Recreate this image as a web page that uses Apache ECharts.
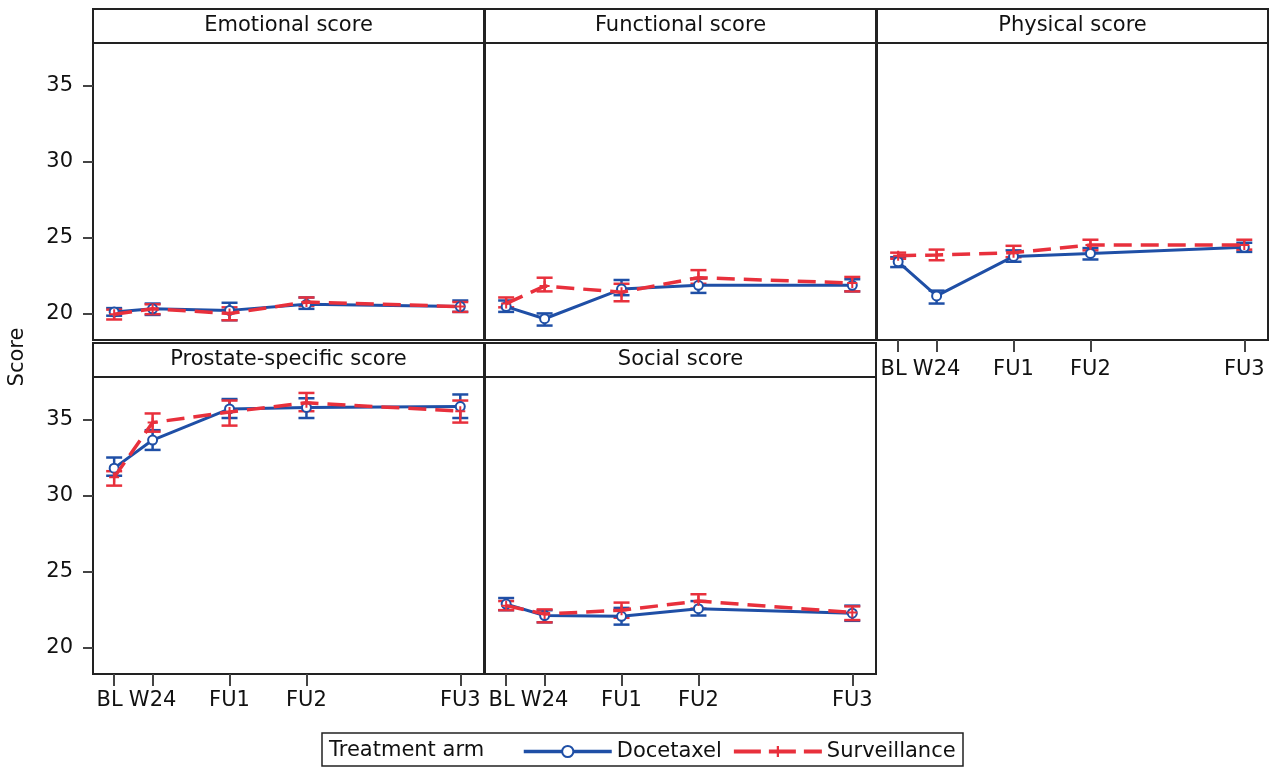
<!DOCTYPE html>
<html>
<head>
<meta charset="utf-8">
<script src="https://cdn.jsdelivr.net/npm/echarts@6/dist/echarts.min.js"></script>
<style>
html,body{margin:0;padding:0;background:#fff;}
#chart{width:1275px;height:768px;}
</style>
</head>
<body>
<div id="chart"></div>
<script>
// ---------- data ----------
const visitLabels = ['BL', 'W24', 'FU1', 'FU2', 'FU3'];
const visitMonths = [0, 6, 18, 30, 54];
const yTickValues = [20, 25, 30, 35];
const panelTitles = ['Emotional score', 'Functional score', 'Physical score', 'Prostate-specific score', 'Social score'];
const armNames = ['Docetaxel', 'Surveillance'];

const emotionalDocMean = [20.1, 20.3, 20.2, 20.6, 20.45];
const emotionalDocLow  = [19.85, 19.9, 19.55, 20.3, 20.1];
const emotionalDocHigh = [20.35, 20.65, 20.7, 21.05, 20.85];
const emotionalSurMean = [19.95, 20.3, 20.0, 20.75, 20.45];
const emotionalSurLow  = [19.6, 19.95, 19.55, 20.5, 20.1];
const emotionalSurHigh = [20.25, 20.6, 20.4, 21.05, 20.75];

const functionalDocMean = [20.45, 19.65, 21.6, 21.85, 21.85];
const functionalDocLow  = [20.1, 19.2, 21.2, 21.35, 21.45];
const functionalDocHigh = [20.85, 20.0, 22.2, 22.3, 22.25];
const functionalSurMean = [20.65, 21.8, 21.4, 22.35, 22.0];
const functionalSurLow  = [20.4, 21.45, 20.8, 21.95, 21.45];
const functionalSurHigh = [21.05, 22.35, 21.95, 22.85, 22.4];

const physicalDocMean = [23.4, 21.15, 23.75, 23.95, 24.35];
const physicalDocLow  = [23.05, 20.65, 23.4, 23.55, 24.05];
const physicalDocHigh = [23.7, 21.5, 24.15, 24.3, 24.65];
const physicalSurMean = [23.8, 23.85, 24.0, 24.5, 24.5];
const physicalSurLow  = [23.6, 23.5, 23.7, 24.15, 24.2];
const physicalSurHigh = [24.0, 24.2, 24.45, 24.85, 24.85];

const prostateDocMean = [31.8, 33.65, 35.7, 35.8, 35.85];
const prostateDocLow  = [31.3, 33.0, 35.1, 35.1, 35.1];
const prostateDocHigh = [32.5, 34.3, 36.35, 36.4, 36.65];
const prostateSurMean = [31.2, 34.8, 35.5, 36.1, 35.55];
const prostateSurLow  = [30.65, 34.2, 34.6, 35.55, 34.8];
const prostateSurHigh = [31.6, 35.4, 36.25, 36.75, 36.25];

const socialDocMean = [22.85, 22.1, 22.05, 22.55, 22.25];
const socialDocLow  = [22.45, 21.65, 21.5, 22.1, 21.75];
const socialDocHigh = [23.25, 22.45, 22.6, 23.05, 22.75];
const socialSurMean = [22.75, 22.2, 22.45, 23.05, 22.3];
const socialSurLow  = [22.45, 21.65, 21.95, 22.55, 21.8];
const socialSurHigh = [23.05, 22.5, 22.95, 23.5, 22.7];

// ---------- layout & style ----------
const FONT = 'DejaVu Sans';
const BLUE = '#1f4fa6';
const RED = '#e8303c';
const FRAME = '#222';
const colLeft = [93, 485, 877];
const panelW = 391;
const rowTop = [43, 377];
const panelH = 297;
const headerH = 34;
const xLabelMargin = [19, 16];

const panels = [
  {title: panelTitles[0], col: 0, row: 0, yLab: true,  xLab: false, doc: [emotionalDocMean, emotionalDocLow, emotionalDocHigh], sur: [emotionalSurMean, emotionalSurLow, emotionalSurHigh]},
  {title: panelTitles[1], col: 1, row: 0, yLab: false, xLab: false, doc: [functionalDocMean, functionalDocLow, functionalDocHigh], sur: [functionalSurMean, functionalSurLow, functionalSurHigh]},
  {title: panelTitles[2], col: 2, row: 0, yLab: false, xLab: true,  doc: [physicalDocMean, physicalDocLow, physicalDocHigh], sur: [physicalSurMean, physicalSurLow, physicalSurHigh]},
  {title: panelTitles[3], col: 0, row: 1, yLab: true,  xLab: true,  doc: [prostateDocMean, prostateDocLow, prostateDocHigh], sur: [prostateSurMean, prostateSurLow, prostateSurHigh]},
  {title: panelTitles[4], col: 1, row: 1, yLab: false, xLab: true,  doc: [socialDocMean, socialDocLow, socialDocHigh], sur: [socialSurMean, socialSurLow, socialSurHigh]}
];

const grids = [], xAxes = [], yAxes = [], series = [], graphics = [];

function ciRenderer(color) {
  return function (params, api) {
    const x = api.value(0), lo = api.value(1), hi = api.value(2);
    const p1 = api.coord([x, lo]), p2 = api.coord([x, hi]);
    const hw = 8;
    const st = {stroke: color, lineWidth: 2.5};
    return {type: 'group', children: [
      {type: 'line', shape: {x1: p1[0], y1: p1[1], x2: p2[0], y2: p2[1]}, style: st},
      {type: 'line', shape: {x1: p1[0] - hw, y1: p1[1], x2: p1[0] + hw, y2: p1[1]}, style: st},
      {type: 'line', shape: {x1: p2[0] - hw, y1: p2[1], x2: p2[0] + hw, y2: p2[1]}, style: st}
    ]};
  };
}

const plusPath = 'path://M4,0h2v4h4v2h-4v4h-2v-4h-4v-2h4z';

function xLabelFormatter(v) {
  const k = visitMonths.indexOf(v);
  if (k < 0) return '';
  return k === 0 ? '{first|' + visitLabels[k] + '}' : visitLabels[k];
}

panels.forEach((p, i) => {
  const left = colLeft[p.col], top = rowTop[p.row];
  grids.push({left: left, top: top, width: panelW, height: panelH, show: true,
    borderColor: FRAME, borderWidth: 2, backgroundColor: '#fff', containLabel: false});
  xAxes.push({
    type: 'value', gridIndex: i, min: -3.3, max: 57.7,
    axisLine: {show: false, onZero: false},
    splitLine: {show: false},
    axisTick: {show: p.xLab, customValues: visitMonths, length: 12, lineStyle: {color: '#444', width: 2}},
    axisLabel: {show: p.xLab, customValues: visitMonths, margin: xLabelMargin[p.row],
      formatter: xLabelFormatter,
      fontFamily: FONT, fontSize: 21, color: '#111',
      rich: {first: {fontFamily: FONT, fontSize: 21, color: '#111', padding: [0, 9, 0, 0]}}}
  });
  yAxes.push({
    type: 'value', gridIndex: i, min: 18.25, max: 37.8,
    axisLine: {show: false, onZero: false},
    splitLine: {show: false},
    axisTick: {show: p.yLab, customValues: yTickValues, length: 10, lineStyle: {color: '#444', width: 2}},
    axisLabel: {show: p.yLab, customValues: yTickValues, margin: 20,
      fontFamily: FONT, fontSize: 21, color: '#111'}
  });
  // header box
  graphics.push({type: 'rect', shape: {x: left, y: top - headerH, width: panelW, height: headerH},
    style: {fill: '#fff', stroke: FRAME, lineWidth: 2}, z: 5});
  graphics.push({type: 'text', x: left + panelW / 2, y: top - headerH / 2,
    style: {text: p.title, font: '21px "' + FONT + '"', fill: '#111', align: 'center', verticalAlign: 'middle'}, z: 6});

  const docCI = visitMonths.map((m, k) => [m, p.doc[1][k], p.doc[2][k]]);
  const surCI = visitMonths.map((m, k) => [m, p.sur[1][k], p.sur[2][k]]);
  series.push({type: 'custom', name: 'Docetaxel CI', xAxisIndex: i, yAxisIndex: i,
    renderItem: ciRenderer(BLUE), data: docCI, encode: {x: 0, y: [1, 2]}, z: 2, silent: true});
  series.push({type: 'custom', name: 'Surveillance CI', xAxisIndex: i, yAxisIndex: i,
    renderItem: ciRenderer(RED), data: surCI, encode: {x: 0, y: [1, 2]}, z: 3, silent: true});
  series.push({type: 'line', name: armNames[0], xAxisIndex: i, yAxisIndex: i,
    data: visitMonths.map((m, k) => [m, p.doc[0][k]]),
    symbol: 'emptyCircle', symbolSize: 9, showAllSymbol: true,
    lineStyle: {color: BLUE, width: 3},
    itemStyle: {color: BLUE, borderColor: BLUE, borderWidth: 2},
    z: 4, animation: false});
  series.push({type: 'line', name: armNames[1], xAxisIndex: i, yAxisIndex: i,
    data: visitMonths.map((m, k) => [m, p.sur[0][k]]),
    symbol: plusPath, symbolSize: 10, showAllSymbol: true,
    lineStyle: {color: RED, width: 3.5, type: [18, 9]},
    itemStyle: {color: RED},
    z: 5, animation: false});
});

// y-axis title
graphics.push({type: 'text', x: 18, y: 357, rotation: Math.PI / 2,
  style: {text: 'Score', font: '21px "' + FONT + '"', fill: '#111', align: 'center', verticalAlign: 'middle'}});
// legend box
graphics.push({type: 'rect', shape: {x: 322, y: 733, width: 641, height: 33},
  style: {fill: '#fff', stroke: FRAME, lineWidth: 1.5}, z: 0});
graphics.push({type: 'text', x: 329, y: 751,
  style: {text: 'Treatment arm', font: '21px "' + FONT + '"', fill: '#111', align: 'left', verticalAlign: 'middle'}, z: 1});

const option = {
  animation: false,
  backgroundColor: '#fff',
  grid: grids,
  xAxis: xAxes,
  yAxis: yAxes,
  series: series,
  legend: {
    data: [
      {name: armNames[0], lineStyle: {width: 3.5, color: BLUE}},
      {name: armNames[1], lineStyle: {width: 4, color: RED, type: [27, 8]}}
    ],
    left: 517, top: 736, itemWidth: 88, itemHeight: 14, itemGap: 10,
    textStyle: {fontFamily: FONT, fontSize: 21, color: '#111'},
    selectedMode: false, z: 10
  },
  graphic: {elements: graphics}
};

const chart = echarts.init(document.getElementById('chart'), null, {renderer: 'canvas'});
chart.setOption(option);
</script>
</body>
</html>
